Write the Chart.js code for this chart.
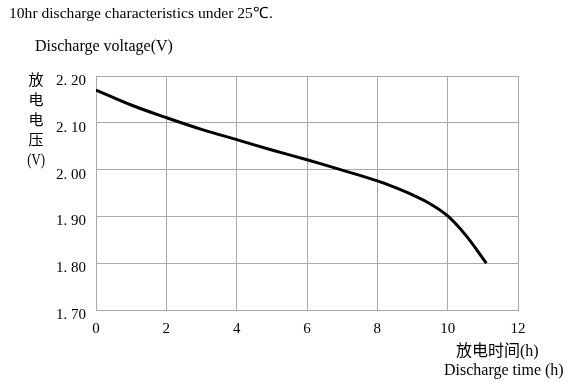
<!DOCTYPE html>
<html>
<head>
<meta charset="utf-8">
<script src="https://cdn.jsdelivr.net/npm/chart.js@4.4.1/dist/chart.umd.min.js"></script>
<style>
  html, body { margin: 0; padding: 0; background: #fff; }
  #wrap { position: relative; width: 569px; height: 383px; overflow: hidden; }
  canvas { position: absolute; left: 0; top: 0; }
  .t { position: absolute; color: #000; white-space: nowrap; font-family: "Liberation Serif", "Times New Roman", serif; line-height: 1; }
  .cjk { font-family: "Noto Sans CJK SC", "Noto Sans CJK JP", sans-serif; }
  #ylab { left: 24px; top: 69px; width: 24px; text-align: center; font-size: 15px; line-height: 20px; white-space: normal; }
  #ylab .v { display: inline-block; font-family: "Liberation Serif", serif; font-size: 16px; transform: scaleX(0.8); }
</style>
</head>
<body>
<div id="wrap">
  <canvas id="c" width="569" height="383"></canvas>
  <div class="t" style="left:9px; top:5px; font-size:15.6px;">10hr discharge characteristics under 25℃.</div>
  <div class="t" style="left:35px; top:38px; font-size:16px;">Discharge voltage(V)</div>
  <div class="t cjk" id="ylab">放<br>电<br>电<br>压<br><span class="v">(V)</span></div>
  <div class="t" style="left:456px; top:341px; font-size:16px;"><span class="cjk">放电时间</span>(h)</div>
  <div class="t" style="left:444px; top:362px; font-size:16px;">Discharge time (h)</div>
</div>
<script>
// Discharge time (h)
const timeH = [0, 1, 2, 3, 4, 5, 6, 7, 8, 8.5, 9, 9.5, 10, 10.5, 11.1];
// Discharge voltage (V)
const voltageV = [2.170, 2.138, 2.111, 2.086, 2.064, 2.042, 2.021, 1.999, 1.976, 1.962, 1.946, 1.927, 1.901, 1.861, 1.800];
// Axis ticks
const xTicks = [0, 2, 4, 6, 8, 10, 12];
const yTicks = [1.70, 1.80, 1.90, 2.00, 2.10, 2.20];

const points = timeH.map((t, i) => ({ x: t, y: voltageV[i] }));
const gridColor = '#a8a8a8';
const tickFont = { family: '"Liberation Serif", "Times New Roman", serif', size: 15 };

new Chart(document.getElementById('c'), {
  type: 'line',
  data: {
    datasets: [{
      data: points,
      borderColor: '#000',
      borderWidth: 3,
      pointRadius: 0,
      fill: false,
      tension: 0.4
    }]
  },
  options: {
    responsive: false,
    animation: false,
    layout: { padding: { left: 0, top: 76, right: 51, bottom: 0 } },
    plugins: { legend: { display: false }, tooltip: { enabled: false } },
    scales: {
      x: {
        type: 'linear',
        min: xTicks[0], max: xTicks[xTicks.length - 1],
        afterBuildTicks: s => { s.ticks = xTicks.map(v => ({ value: v })); },
        afterFit: s => { s.height = 73; },
        grid: { color: gridColor, lineWidth: 1, drawTicks: false },
        border: { color: gridColor },
        ticks: { color: '#000', font: tickFont, padding: 10, maxRotation: 0, callback: v => String(v) }
      },
      y: {
        type: 'linear',
        min: yTicks[0], max: yTicks[yTicks.length - 1],
        afterBuildTicks: s => { s.ticks = yTicks.map(v => ({ value: v })); },
        afterFit: s => { s.width = 96; },
        grid: { color: gridColor, lineWidth: 1, drawTicks: false },
        border: { color: gridColor },
        ticks: { color: '#000', font: tickFont, padding: 10, labelOffset: 5, callback: v => Number(v).toFixed(2).replace('.', '. ') }
      }
    }
  }
});
</script>
</body>
</html>
